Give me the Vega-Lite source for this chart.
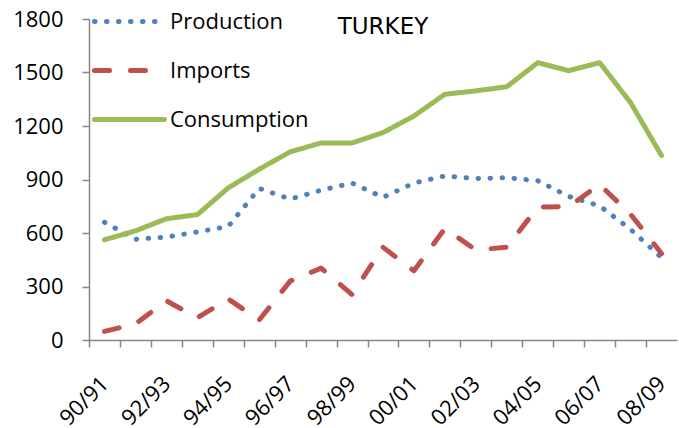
{
  "$schema": "https://vega.github.io/schema/vega-lite/v6.json",
  "width": 588,
  "height": 321,
  "autosize": {"type": "none"},
  "padding": {"left": 89, "top": 19, "right": 2, "bottom": 88},
  "background": "white",
  "title": {"text": "TURKEY", "font": "DejaVu Sans", "fontSize": 23, "fontWeight": "normal", "anchor": "middle", "offset": -73, "baseline": "alphabetic", "color": "black"},
  "config": {"view": {"stroke": null}},
  "data": {"values": [
    {"year": "90/91", "series": "Production", "value": 660},
    {"year": "91/92", "series": "Production", "value": 565},
    {"year": "92/93", "series": "Production", "value": 577},
    {"year": "93/94", "series": "Production", "value": 606},
    {"year": "94/95", "series": "Production", "value": 637},
    {"year": "95/96", "series": "Production", "value": 850},
    {"year": "96/97", "series": "Production", "value": 790},
    {"year": "97/98", "series": "Production", "value": 840},
    {"year": "98/99", "series": "Production", "value": 880},
    {"year": "99/00", "series": "Production", "value": 800},
    {"year": "00/01", "series": "Production", "value": 880},
    {"year": "01/02", "series": "Production", "value": 920},
    {"year": "02/03", "series": "Production", "value": 905},
    {"year": "03/04", "series": "Production", "value": 910},
    {"year": "04/05", "series": "Production", "value": 893},
    {"year": "05/06", "series": "Production", "value": 805},
    {"year": "06/07", "series": "Production", "value": 752},
    {"year": "07/08", "series": "Production", "value": 620},
    {"year": "08/09", "series": "Production", "value": 462},
    {"year": "90/91", "series": "Imports", "value": 48},
    {"year": "91/92", "series": "Imports", "value": 90},
    {"year": "92/93", "series": "Imports", "value": 220},
    {"year": "93/94", "series": "Imports", "value": 125},
    {"year": "94/95", "series": "Imports", "value": 230},
    {"year": "95/96", "series": "Imports", "value": 112},
    {"year": "96/97", "series": "Imports", "value": 330},
    {"year": "97/98", "series": "Imports", "value": 403},
    {"year": "98/99", "series": "Imports", "value": 255},
    {"year": "99/00", "series": "Imports", "value": 520},
    {"year": "00/01", "series": "Imports", "value": 388},
    {"year": "01/02", "series": "Imports", "value": 625},
    {"year": "02/03", "series": "Imports", "value": 505},
    {"year": "03/04", "series": "Imports", "value": 520},
    {"year": "04/05", "series": "Imports", "value": 745},
    {"year": "05/06", "series": "Imports", "value": 748},
    {"year": "06/07", "series": "Imports", "value": 872},
    {"year": "07/08", "series": "Imports", "value": 705},
    {"year": "08/09", "series": "Imports", "value": 485},
    {"year": "90/91", "series": "Consumption", "value": 562},
    {"year": "91/92", "series": "Consumption", "value": 612},
    {"year": "92/93", "series": "Consumption", "value": 680},
    {"year": "93/94", "series": "Consumption", "value": 703},
    {"year": "94/95", "series": "Consumption", "value": 853},
    {"year": "95/96", "series": "Consumption", "value": 958},
    {"year": "96/97", "series": "Consumption", "value": 1055},
    {"year": "97/98", "series": "Consumption", "value": 1105},
    {"year": "98/99", "series": "Consumption", "value": 1105},
    {"year": "99/00", "series": "Consumption", "value": 1163},
    {"year": "00/01", "series": "Consumption", "value": 1256},
    {"year": "01/02", "series": "Consumption", "value": 1378},
    {"year": "02/03", "series": "Consumption", "value": 1397},
    {"year": "03/04", "series": "Consumption", "value": 1420},
    {"year": "04/05", "series": "Consumption", "value": 1555},
    {"year": "05/06", "series": "Consumption", "value": 1510},
    {"year": "06/07", "series": "Consumption", "value": 1555},
    {"year": "07/08", "series": "Consumption", "value": 1331},
    {"year": "08/09", "series": "Consumption", "value": 1034}
  ]},
  "mark": {"type": "line", "strokeCap": "round", "strokeJoin": "round", "strokeWidth": 5},
  "encoding": {
    "x": {
      "field": "year", "type": "ordinal",
      "sort": ["90/91","91/92","92/93","93/94","94/95","95/96","96/97","97/98","98/99","99/00","00/01","01/02","02/03","03/04","04/05","05/06","06/07","07/08","08/09"],
      "scale": {"type": "point", "padding": 0.5},
      "axis": {
        "title": null, "grid": false,
        "domainColor": "#868686", "domainWidth": 1.5,
        "tickColor": "#868686", "tickWidth": 1.5, "tickSize": 7,
        "tickOffset": -15.5, "labelOffset": 15.5,
        "labelAngle": -45, "labelAlign": "right", "labelBaseline": "middle",
        "labelPadding": 33, "labelOverlap": false, "labelBound": false,
        "labelFont": "Open Sans", "labelFontSize": 22, "labelColor": "black",
        "labelExpr": "parseInt(substring(datum.label,0,2)) % 2 == 0 ? datum.label : ''"
      }
    },
    "y": {
      "field": "value", "type": "quantitative",
      "scale": {"domain": [0, 1800]},
      "axis": {
        "title": null, "grid": false, "format": "d",
        "values": [0, 300, 600, 900, 1200, 1500, 1800],
        "domainColor": "#868686", "domainWidth": 1.5,
        "tickColor": "#868686", "tickWidth": 1.5, "tickSize": 7,
        "labelPadding": 19, "labelFont": "Open Sans", "labelFontSize": 22, "labelColor": "black"
      }
    },
    "color": {
      "field": "series", "type": "nominal",
      "scale": {"domain": ["Production", "Imports", "Consumption"], "range": ["#4F81BD", "#C0504D", "#9BBB59"]},
      "legend": {
        "title": null, "orient": "none", "legendX": 3, "legendY": -35,
        "symbolType": "stroke", "symbolSize": 4900, "symbolStrokeWidth": 5,
        "labelFont": "Open Sans", "labelFontSize": 22, "labelColor": "black",
        "labelOffset": 3, "rowPadding": -18,
        "encode": {"symbols": {"update": {"strokeCap": {"value": "round"}}}}
      }
    },
    "strokeDash": {
      "field": "series", "type": "nominal",
      "scale": {"domain": ["Production", "Imports", "Consumption"], "range": [[0.5, 11.5], [15, 21], [1, 0]]},
      "legend": {
        "title": null, "orient": "none", "legendX": 3, "legendY": -35,
        "symbolType": "stroke", "symbolSize": 4900, "symbolStrokeWidth": 5,
        "labelFont": "Open Sans", "labelFontSize": 22, "labelColor": "black",
        "labelOffset": 3, "rowPadding": -18,
        "encode": {"symbols": {"update": {"strokeCap": {"value": "round"}}}}
      }
    }
  }
}
